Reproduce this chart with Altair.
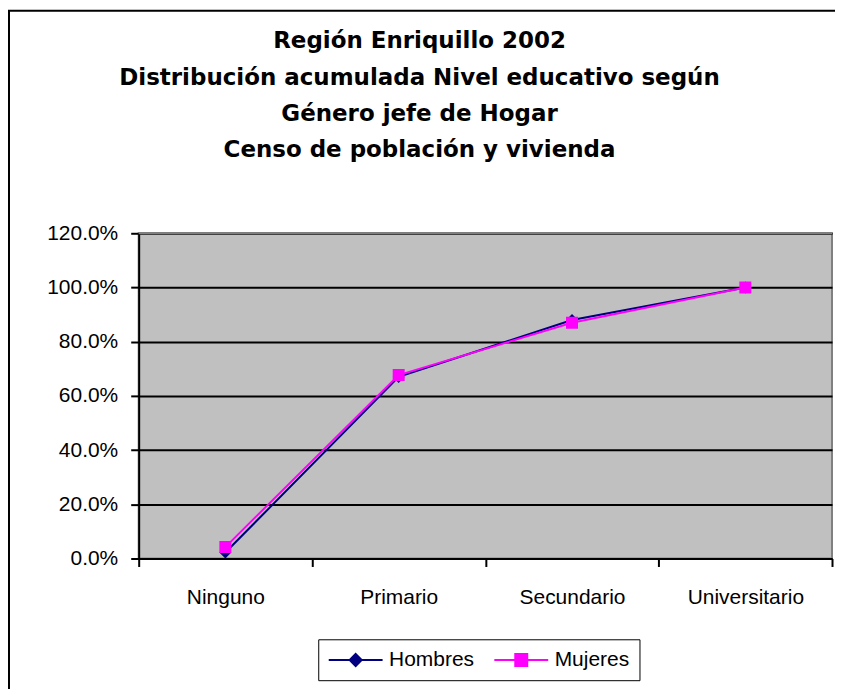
import altair as alt
import pandas as pd

categories = ["Ninguno", "Primario", "Secundario", "Universitario"]
hombres = [0.022, 0.670, 0.880, 1.000]
mujeres = [0.042, 0.677, 0.870, 1.000]
series_names = ["Hombres", "Mujeres"]
series_colors = ["#000080", "#FF00FF"]
y_ticks = [0.0, 0.2, 0.4, 0.6, 0.8, 1.0, 1.2]
title_lines = [
    "Región Enriquillo 2002",
    "Distribución acumulada Nivel educativo según",
    "Género jefe de Hogar",
    "Censo de población y vivienda",
]

rows = []
for name, vals in zip(series_names, [hombres, mujeres]):
    for c, v in zip(categories, vals):
        rows.append({"Nivel": c, "Serie": name, "Valor": v})
df = pd.DataFrame(rows)

# marker paths: short line through a diamond / square (line only shows in legend)
shape_paths = [
    "M-4.5,0H4.5M0,-1L1,0L0,1L-1,0Z",
    "M-4.5,0H4.5M-1,-1H1V1H-1Z",
]

x_enc = alt.X(
    "Nivel:N",
    sort=categories,
    scale=alt.Scale(type="band", paddingInner=0, paddingOuter=0),
    axis=alt.Axis(
        title=None,
        labelAngle=0,
        tickBand="extent",
        labelFont="Liberation Sans",
        labelFontSize=21,
        labelColor="black",
        labelPadding=20,
        tickSize=8,
        tickColor="black",
        tickWidth=2,
        domainColor="black",
        domainWidth=2,
        grid=False,
    ),
)
y_enc = alt.Y(
    "Valor:Q",
    scale=alt.Scale(domain=[0, 1.2], nice=False, zero=True),
    axis=alt.Axis(
        title=None,
        values=y_ticks,
        format=".1%",
        labelFont="Liberation Sans",
        labelFontSize=21,
        labelColor="black",
        labelPadding=13,
        tickSize=8,
        tickColor="black",
        tickWidth=2,
        domainColor="black",
        domainWidth=2,
        grid=True,
        gridColor="black",
        gridWidth=2,
    ),
)

# line colour scale uses the reversed domain so its (hidden) legend stays separate
lines = alt.Chart(df).mark_line(strokeWidth=2).encode(
    x=x_enc,
    y=y_enc,
    color=alt.Color(
        "Serie:N",
        scale=alt.Scale(domain=series_names[::-1], range=series_colors[::-1]),
        legend=None,
    ),
)

legend = alt.Legend(
    title=None,
    orient="none",
    direction="horizontal",
    legendX=180,
    legendY=407,
    labelFont="Liberation Sans",
    labelFontSize=21,
    labelColor="black",
    symbolSize=144,
    symbolStrokeWidth=2,
    symbolOffset=17,
    labelOffset=23,
    columnPadding=15,
    padding=10,
    strokeColor="black",
)

points = alt.Chart(df).mark_point(filled=True, size=144, strokeWidth=0, opacity=1).encode(
    x=x_enc,
    y=y_enc,
    fill=alt.Fill(
        "Serie:N",
        scale=alt.Scale(domain=series_names, range=series_colors),
        legend=legend,
    ),
    stroke=alt.Stroke(
        "Serie:N",
        scale=alt.Scale(domain=series_names, range=series_colors),
        legend=legend,
    ),
    shape=alt.Shape(
        "Serie:N",
        scale=alt.Scale(domain=series_names, range=shape_paths),
        legend=legend,
    ),
)

deco = pd.DataFrame({"f": [0]})

# grey plot-area border on top (covers the 120% gridline like the original)
top_edge = alt.Chart(deco).mark_rule(color="#808080", strokeWidth=2).encode(
    x=alt.value(0), x2=alt.value(695), y=alt.value(0)
)

frame = alt.Chart(deco).mark_rect(
    fillOpacity=0, stroke="black", strokeWidth=2
).encode(
    x=alt.value(-130), x2=alt.value(800), y=alt.value(-223), y2=alt.value(700)
)

chart = (
    alt.layer(lines, points, top_edge, frame)
    .properties(
        width=695,
        height=326,
        padding={"left": 131, "top": 225, "right": 3, "bottom": 130},
        autosize=alt.AutoSizeParams(type="none"),
        title=alt.TitleParams(
            text=title_lines,
            font="DejaVu Sans",
            fontSize=23,
            fontWeight="bold",
            color="black",
            lineHeight=36.5,
            anchor="middle",
            dx=-66,
            offset=-153,
        ),
    )
    .configure_view(fill="#C0C0C0", stroke="#808080", strokeWidth=2)
)

chart.save("out.html", embed_options={"renderer": "svg", "actions": False})
